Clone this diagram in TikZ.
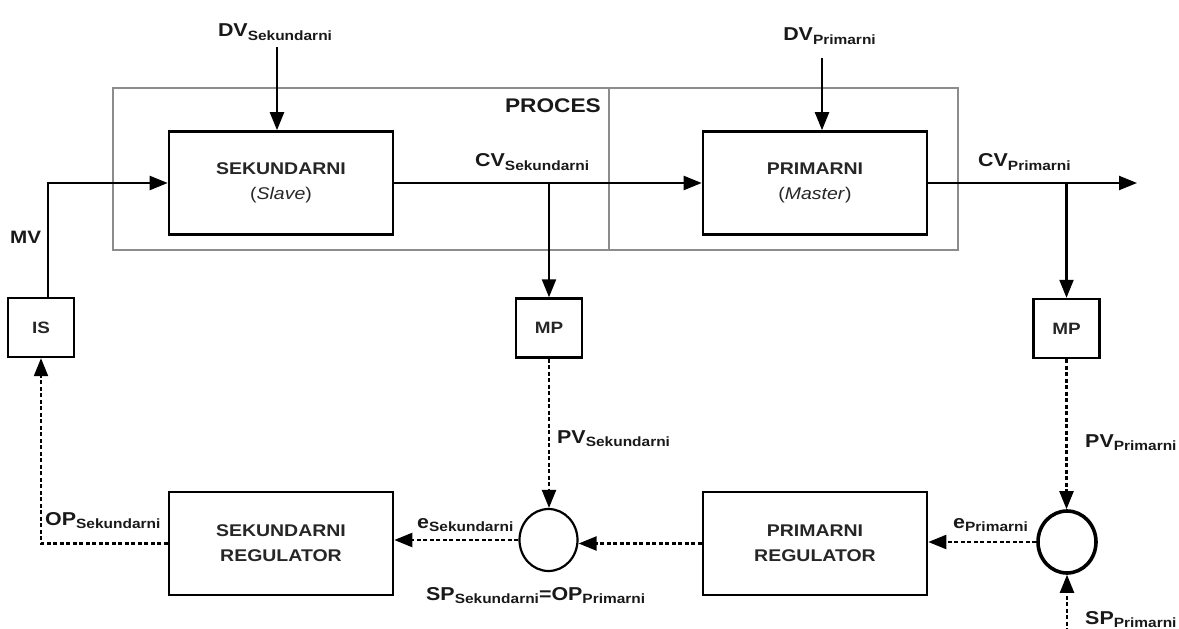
\documentclass[tikz,border=0pt]{standalone}
\usepackage{fontspec}
\newfontfamily\labfont{Liberation Sans}[FakeStretch=1.15]
\usetikzlibrary{arrows.meta,shapes.geometric}
\newcommand\lbl[2]{{\fontsize{18.7}{20}\selectfont #1}\raisebox{-3.5bp}{\fontsize{13.5}{14}\selectfont #2}}
\begin{document}
\begin{tikzpicture}[x=1bp,y=-1bp,
  font=\labfont\bfseries,
  blk/.style={draw=black, line width=2.6bp, rectangle, inner sep=0pt, minimum width=224bp, minimum height=103bp, align=center, font=\labfont\bfseries\fontsize{17}{25}\selectfont, text=black!85},
  sbox/.style={draw=black, line width=2.4bp, rectangle, inner sep=0pt, minimum width=66bp, minimum height=59bp, font=\labfont\bfseries\fontsize{16.5}{18}\selectfont, text=black!85},
  sumnode/.style={draw=black, ellipse, inner sep=0pt, minimum width=58bp, minimum height=62bp},
  arr/.style={line width=2.2bp, -{Triangle[length=18bp,width=14bp]}},
  darr/.style={arr, dash pattern=on 4bp off 2.5bp},
  lab/.style={inner sep=0pt, anchor=base west, text=black!90},
]
\useasboundingbox (0,0) rectangle (1179,629);
% process frame
\draw[black!45, line width=2bp] (113,88) rectangle (958,250);
\draw[black!45, line width=2bp] (609,88) -- (609,250);
\node[lab, anchor=base east] (proces) at (601,113) {\fontsize{19.8}{20}\selectfont PROCES};

% blocks
\node[blk] (slave) at (281,183) {SEKUNDARNI\\{\mdseries(\textit{Slave})}};
\node[blk] (master) at (815,183) {PRIMARNI\\{\mdseries(\textit{Master})}};
\node[sbox] (is) at (41,327.5) {IS};
\node[sbox] (mp1) at (549,328) {MP};
\node[sbox] (mp2) at (1066.5,328.5) {MP};
\node[blk] (sreg) at (281,543.5) {SEKUNDARNI\\REGULATOR};
\node[blk] (preg) at (815,543.5) {PRIMARNI\\REGULATOR};
\node[sumnode, line width=2.2bp] (s1) at (548.5,540) {};
\node[sumnode, line width=3.6bp] (s2) at (1067,542) {};

% disturbances
\node[lab, anchor=base] (dvs) at (275,37) {\lbl{DV}{Sekundarni}};
\coordinate (dvsA) at (277,47);
\draw[arr] (dvsA) -- (dvsA |- slave.north);
\node[lab, anchor=base] (dvp) at (829.5,41) {\lbl{DV}{Primarni}};
\coordinate (dvpA) at (822,58);
\draw[arr] (dvpA) -- (dvpA |- master.north);

% forward path
\coordinate (mvA) at (48,298);
\draw[arr] (mvA) |- (slave.west);
\node[lab] (mv) at (10,244) {\fontsize{18}{20}\selectfont MV};
\draw[arr] (slave.east) -- (master.west);
\node[lab] (cvs) at (475,167) {\lbl{CV}{Sekundarni}};
\coordinate (b1) at (mp1.north |- slave.east);
\draw[arr] (b1) -- (mp1.north);
\coordinate (out) at (1137,183);
\draw[arr] (master.east) -- (out);
\node[lab] (cvp) at (978,167) {\lbl{CV}{Primarni}};
\coordinate (b2) at (mp2.north |- master.east);
\draw[arr] (b2) -- (mp2.north);

% feedback path
\draw[darr] (mp1.south) -- (mp1.south |- s1.north);
\node[lab] (pvs) at (557,443) {\lbl{PV}{Sekundarni}};
\draw[darr] (mp2.south) -- (mp2.south |- s2.north);
\node[lab] (pvp) at (1085,447) {\lbl{PV}{Primarni}};
\draw[darr] (s2.west) -- (s2.west -| preg.east);
\node[lab] (ep) at (953,528) {\lbl{e}{Primarni}};
\draw[darr] (preg.west) -- (preg.west -| s1.east);
\draw[darr] (s1.west) -- (s1.west -| sreg.east);
\node[lab] (es) at (417,528) {\lbl{e}{Sekundarni}};
\draw[darr] (sreg.west) -| (is.south);
\node[lab] (ops) at (45,525) {\lbl{OP}{Sekundarni}};
\node[lab] (spop) at (426,600) {\lbl{SP}{Sekundarni}\lbl{=OP}{Primarni}};
\coordinate (spA) at (1067,632);
\draw[darr] (spA) -- (s2.south);
\node[lab] (spp) at (1085,624) {\lbl{SP}{Primarni}};
\end{tikzpicture}
\end{document}
